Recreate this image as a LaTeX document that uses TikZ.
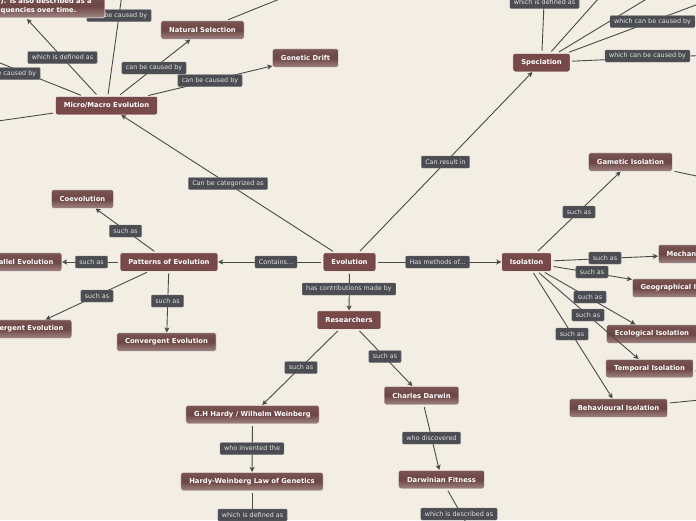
\documentclass[tikz,border=0pt]{standalone}
\usepackage{fontspec}
\setmainfont{DejaVu Sans}
\usetikzlibrary{arrows.meta}
\definecolor{bg}{HTML}{F3EEE3}
\definecolor{nodemain}{HTML}{774A49}
\definecolor{nodetop}{HTML}{7A5553}
\definecolor{nodemid}{HTML}{6C4544}
\definecolor{nodebot}{HTML}{A08683}
\definecolor{lblfill}{HTML}{4B4D53}
\definecolor{lbldraw}{HTML}{7A7C80}
\definecolor{lbltext}{HTML}{E2E2E2}
\definecolor{edgecol}{HTML}{4A4A4A}
\tikzset{
  mainbox/.style={draw=white, line width=0.5pt, fill=nodemain, rounded corners=2pt,
    text=white, font=\fontsize{6.8}{8.5}\selectfont\bfseries,
    inner xsep=8.3pt, inner ysep=0pt, minimum height=18.5pt},
  leafbox/.style={mainbox, top color=nodetop, bottom color=nodebot, middle color=nodemid},
  lbl/.style={fill=lblfill, draw=lbldraw, line width=0.3pt, rounded corners=1pt,
    text=lbltext, font=\fontsize{6.4}{7}\selectfont,
    inner xsep=4pt, inner ysep=0pt, minimum height=12pt},
  edge/.style={draw=edgecol, line width=0.9pt, shorten <=2pt},
  arr/.style={edge, -{Stealth[length=5pt,width=5pt,inset=1.2pt]}},
}
\begin{document}
\begin{tikzpicture}[x=1pt,y=-1pt]
\useasboundingbox (0,0) rectangle (696,520);
\fill[bg] (0,0) rectangle (696,520);
\clip (0,0) rectangle (696,520);

% main nodes
\node[mainbox] (evo) at (349.5,262) {Evolution};
\node[mainbox] (pat) at (169,262) {Patterns of Evolution};
\node[mainbox] (iso) at (526.5,262) {Isolation};
\node[mainbox] (res) at (349,320) {Researchers};
\node[mainbox] (mic) at (106.5,105.5) {Micro/Macro Evolution};
\node[mainbox] (spe) at (541.5,62.5) {Speciation};
% leaf nodes
\node[leafbox] (nat) at (202.5,30) {Natural Selection};
\node[leafbox] (gen) at (305.5,58) {Genetic Drift};
\node[leafbox] (coe) at (82.5,199) {Coevolution};
\node[leafbox, anchor=east] (par) at (62,262) {Parallel Evolution};
\node[leafbox, anchor=east] (div) at (72,329) {Divergent Evolution};
\node[leafbox] (con) at (166.5,342) {Convergent Evolution};
\node[leafbox] (gam) at (630.5,162) {Gametic Isolation};
\node[leafbox, anchor=west] (mec) at (658,254) {Mechanical Isolation};
\node[leafbox, anchor=west] (geo) at (632,288) {Geographical Isolation};
\node[leafbox] (eco) at (652,334) {Ecological Isolation};
\node[leafbox] (tem) at (649.5,368.5) {Temporal Isolation};
\node[leafbox] (beh) at (618.5,408) {Behavioural Isolation};
\node[leafbox] (ghh) at (252.5,414.5) {G.H Hardy / Wilhelm Weinberg};
\node[leafbox] (dar) at (421.5,395.5) {Charles Darwin};
\node[leafbox] (hwl) at (252,481.5) {Hardy-Weinberg Law of Genetics};
\node[leafbox] (dfit) at (441.5,479.5) {Darwinian Fitness};

% free ends
\coordinate (defin) at (27,19);
\coordinate (mup) at (124,-20);
\coordinate (mleft) at (-30,51);
\coordinate (mlow) at (-30,125);
\coordinate (nup) at (327,-20);
\coordinate (sp1) at (545,-20);
\coordinate (sp2) at (615,-20);
\coordinate (sp3) at (678,-20);
\coordinate (sp4) at (720,-4);
\coordinate (sp5) at (720,54.7);
\coordinate (gamr) at (720,181);
\coordinate (temr) at (720,372);
\coordinate (behr) at (720,398);
\coordinate (hwd) at (252,540);
\coordinate (dfd) at (476,540);

% connectors
\draw[arr] (evo) -- (pat);
\draw[arr] (evo) -- (mic);
\draw[arr] (evo) -- (iso);
\draw[arr] (evo) -- (res);
\draw[arr] (evo) -- (spe);
\draw[arr] (pat) -- (coe);
\draw[arr] (pat) -- (par);
\draw[arr] (pat) -- (div);
\draw[arr] (pat) -- (con);
\draw[arr] (mic) -- (nat);
\draw[arr] (mic) -- (gen);
\draw[arr] (mic) -- (defin);
\draw[edge] (mic) -- (mup);
\draw[edge] (mic) -- (mleft);
\draw[edge] (mic) -- (mlow);
\draw[edge] (nat) -- (nup);
\draw[edge] (spe) -- (sp1);
\draw[edge] (spe) -- (sp2);
\draw[edge] (spe) -- (sp3);
\draw[edge] (spe) -- (sp4);
\draw[edge] (spe) -- (sp5);
\draw[arr] (iso) -- (gam);
\draw[arr] (iso) -- (mec);
\draw[arr] (iso) -- (geo);
\draw[arr] (iso) -- (eco);
\draw[arr] (iso) -- (tem);
\draw[arr] (iso) -- (beh);
\draw[edge] (gam) -- (gamr);
\draw[edge] (tem) -- (temr);
\draw[edge] (beh) -- (behr);
\draw[arr] (res) -- (ghh);
\draw[arr] (res) -- (dar);
\draw[arr] (ghh) -- (hwl);
\draw[arr] (dar) -- (dfit);
\draw[edge] (hwl) -- (hwd);
\draw[edge] (dfit) -- (dfd);

% connector labels
\node[lbl] (lcat) at (228,183.5) {Can be categorized as};
\node[lbl] (lcon) at (276,262) {Contains...};
\node[lbl] (lhas) at (437.5,262) {Has methods of...};
\node[lbl] (lcontr) at (349,289) {has contributions made by};
\node[lbl] (lres) at (445.5,162) {Can result in};
\node[lbl] (lp1) at (125.5,231) {such as};
\node[lbl] (lp2) at (91.5,262) {such as};
\node[lbl] (lp3) at (97,296) {such as};
\node[lbl] (lp4) at (167.5,301) {such as};
\node[lbl] (lr1) at (301,367.5) {such as};
\node[lbl] (lr2) at (385,356.5) {such as};
\node[lbl] (linv) at (252,448.5) {who invented the};
\node[lbl] (ldis) at (431.5,438) {who discovered};
\node[lbl] (ldef2) at (252.5,515) {which is defined as};
\node[lbl] (ldesc) at (459,514) {which is described as};
\node[lbl] (li1) at (579,212) {such as};
\node[lbl] (li2) at (605,258) {such as};
\node[lbl] (li3) at (592,272) {such as};
\node[lbl] (li4) at (590,297) {such as};
\node[lbl] (li5) at (588,315) {such as};
\node[lbl] (li6) at (572,334) {such as};
\node[lbl] (lm1) at (119,15.5) {can be caused by};
\node[lbl] (lm2) at (62.5,57.5) {which is defined as};
\node[lbl] (lm3) at (8,73.5) {can be caused by};
\node[lbl] (lm4) at (154,68) {can be caused by};
\node[lbl] (lm5) at (210,80.5) {can be caused by};
\node[lbl] (ls1) at (544.5,2.5) {which is defined as};
\node[lbl] (ls2) at (652.5,21.5) {which can be caused by};
\node[lbl] (ls3) at (647.5,56) {which can be caused by};

% partly hidden definition node (drawn over the label behind it)
\node[leafbox, anchor=south east, align=left, text width=101pt,
      inner xsep=3pt, inner ysep=4pt] (def) at (105,18)
      {). is also described as a\\quencies over time.};
\end{tikzpicture}
\end{document}
